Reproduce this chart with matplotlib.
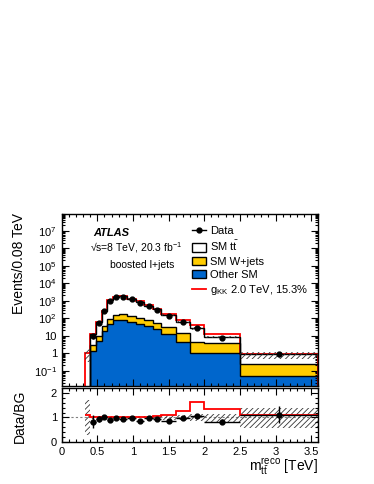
import numpy as np
import matplotlib
matplotlib.use('Agg')
import matplotlib.pyplot as plt
from matplotlib.lines import Line2D
from matplotlib.patches import Patch
from matplotlib.ticker import MultipleLocator, FixedLocator, LogLocator, NullFormatter, FuncFormatter

plt.rcParams['font.family'] = ['Liberation Sans', 'DejaVu Sans']
plt.rcParams['mathtext.fontset'] = 'custom'
plt.rcParams['mathtext.rm'] = 'Liberation Sans'
plt.rcParams['mathtext.it'] = 'Liberation Sans:italic'
plt.rcParams['mathtext.bf'] = 'Liberation Sans:bold'
plt.rcParams['hatch.linewidth'] = 0.6

# bin edges of m_tt reco [TeV]
edges = [0.32, 0.40, 0.48, 0.56, 0.64, 0.72, 0.80, 0.92, 1.04, 1.16,
         1.28, 1.40, 1.60, 1.80, 2.00, 2.50, 3.60]

# events / 0.08 TeV
data = [np.nan, 10, 57, 260, 950, 1700, 1650, 1250, 760, 520,
        300, 130, 60, 28, 7.2, 0.95]
data_err = [0, 3.2, 7.5, 16, 31, 41, 35, 30, 24, 20,
            15, 8, 4.5, 2.5, 0.9, 0.3]
ttbar = [1.0, 8.9, 51, 224, 969, 1557, 1620, 1162, 784, 448,
         268, 118, 48.5, 21.8, 4.8, 0.61]
wjets = [0, 1.7, 5.0, 18, 42, 85, 95, 75, 55, 42,
         30, 20, 9.4, 3.6, 3.0, 0.20]
other = [0, 1.4, 5.0, 18, 45, 75, 78, 65, 45, 35,
         25, 13, 4.6, 1.0, 1.0, 0.05]

# (signal + background) / background for g_KK 2.0 TeV
sig_ratio = [1.09, 1.0, 1.0, 1.0, 1.0, 1.01, 1.01, 1.02, 1.03, 1.03,
             1.04, 1.11, 1.28, 1.62, 1.35, 1.08]

# relative background uncertainty band
unc_lo = [0.30, 0.95, 0.96, 0.96, 0.96, 0.96, 0.96, 0.96, 0.96, 0.95,
          0.95, 0.90, 0.88, 0.86, 0.82, 0.58]
unc_hi = [1.70, 1.05, 1.04, 1.04, 1.04, 1.04, 1.04, 1.04, 1.04, 1.05,
          1.05, 1.10, 1.12, 1.16, 1.16, 1.38]

blue = '#0066cc'
yellow = '#ffcc00'
floor = 1e-4

edges = np.array(edges)
data = np.array(data)
data_err = np.array(data_err)
s_other = np.array(other)
s_wj = s_other + np.array(wjets)
total = s_wj + np.array(ttbar)
centers = 0.5 * (edges[1:] + edges[:-1])
halfw = 0.5 * (edges[1:] - edges[:-1])

fig = plt.figure(figsize=(3.74, 4.84), dpi=100)
ax = fig.add_axes([0.165, 0.2025, 0.686, 0.3554])
rax = fig.add_axes([0.165, 0.0868, 0.686, 0.1115])

def atlas_ticks(a):
    a.tick_params(which='both', direction='in', top=True, right=True, labelsize=8)
    a.tick_params(which='major', length=5, width=0.8)
    a.tick_params(which='minor', length=2.5, width=0.8)
    for s in a.spines.values():
        s.set_linewidth(1.0)

# stack fills
ax.stairs(total, edges, baseline=floor, fill=True, color='white', zorder=1)
ax.stairs(np.where(s_wj > 0, s_wj, floor), edges, baseline=floor, fill=True, color=yellow, zorder=1)
ax.stairs(np.where(s_other > 0, s_other, floor), edges, baseline=floor, fill=True, color=blue, zorder=1)

# signal line
ax.stairs(total * np.array(sig_ratio), edges, baseline=floor, color='red', lw=1.3, zorder=2)

# stack outlines (first bin only has the ttbar tail)
for v in (total, s_wj, s_other):
    ax.stairs(v[1:], edges[1:], baseline=floor, color='black', lw=1.0, zorder=3)

# uncertainty hatch
ax.stairs(total * np.array(unc_hi), edges, baseline=total * np.array(unc_lo), fill=True,
          facecolor='none', edgecolor='#333333', lw=0, hatch='//////', zorder=4)

ax.errorbar(centers, data, yerr=data_err, fmt='o', color='black', ms=3.5,
            elinewidth=1, capsize=0, zorder=5)

ax.set_yscale('log')
ax.set_xlim(0, 3.6)
ax.set_ylim(0.0135, 9e7)
ax.yaxis.set_major_locator(FixedLocator([0.1, 1, 10, 1e2, 1e3, 1e4, 1e5, 1e6, 1e7]))
ax.set_yticklabels(['$10^{-1}$', '1', '10', '$10^{2}$', '$10^{3}$', '$10^{4}$',
                    '$10^{5}$', '$10^{6}$', '$10^{7}$'])
ax.yaxis.set_minor_locator(LogLocator(base=10, subs=np.arange(2, 10), numticks=20))
ax.yaxis.set_minor_formatter(NullFormatter())
ax.xaxis.set_major_locator(MultipleLocator(0.5))
ax.xaxis.set_minor_locator(MultipleLocator(0.1))
ax.tick_params(labelbottom=False)
atlas_ticks(ax)

fig.text(19 / 374, 1 - 213 / 484, 'Events/0.08 TeV', rotation=90, ha='center', va='top', fontsize=10)

fig.text(0.249, 0.5186, 'ATLAS', fontsize=8, fontweight='bold', fontstyle='italic', va='center')
fig.text(0.241, 0.4876, '\u221as=8 TeV, 20.3 fb$^{-1}$', fontsize=7.5, va='center')
fig.text(0.294, 0.4525, 'boosted l+jets', fontsize=7.5, va='center')

handles = [
    Line2D([], [], color='black', marker='o', ms=3.5, lw=1),
    Patch(facecolor='white', edgecolor='black'),
    Patch(facecolor=yellow, edgecolor='black'),
    Patch(facecolor=blue, edgecolor='black'),
    Line2D([], [], color='red', lw=1.3),
]
labels = ['Data', r'SM $\mathrm{t\bar{t}}$', 'SM W+jets', 'Other SM',
          r'g$_{\mathrm{KK}}$ 2.0 TeV, 15.3%']
ax.legend(handles, labels, loc='upper left', bbox_to_anchor=(0.49, 0.955), frameon=False,
          fontsize=8, handlelength=1.3, handleheight=0.75, labelspacing=0.28,
          handletextpad=0.3, borderaxespad=0)

# ratio panel
ratio = data / total
ratio_err = data_err / total
rax.stairs(unc_hi, edges, baseline=unc_lo, fill=True, facecolor='none',
           edgecolor='#333333', lw=0, hatch='//////', zorder=1)
rax.axhline(1, color='gray', ls=(0, (2, 2)), lw=0.8, zorder=0)
rax.stairs(sig_ratio, edges, baseline=None, color='red', lw=1.3, zorder=2)
rax.errorbar(centers, ratio, yerr=ratio_err, xerr=halfw, fmt='o', color='black', ms=3.5,
             elinewidth=1, capsize=0, zorder=3)
rax.set_xlim(0, 3.6)
rax.set_ylim(0, 2.2)
rax.yaxis.set_major_locator(FixedLocator([0, 1, 2]))
rax.yaxis.set_minor_locator(MultipleLocator(0.2))
rax.xaxis.set_major_locator(MultipleLocator(0.5))
rax.xaxis.set_minor_locator(MultipleLocator(0.1))
rax.xaxis.set_major_formatter(FuncFormatter(lambda v, p: '%g' % v))
atlas_ticks(rax)

fig.text(20 / 374, 1 - 416 / 484, 'Data/BG', rotation=90, ha='center', va='center', fontsize=10)
fig.text(318 / 374, 1 - 467 / 484, r'$\mathrm{m}_{\mathrm{t\bar{t}}}^{\mathrm{reco}}$ [TeV]',
         ha='right', va='center', fontsize=10)

fig.savefig('out.png', dpi=100)
